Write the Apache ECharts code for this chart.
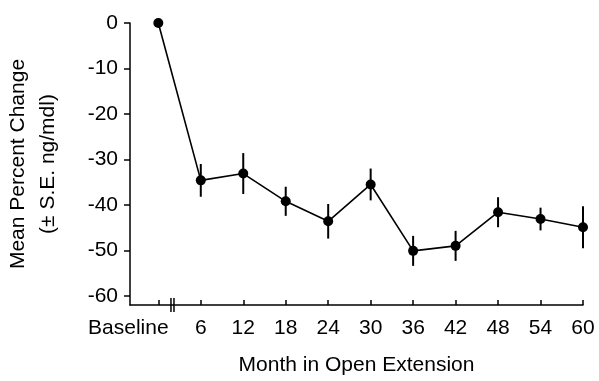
<!DOCTYPE html>
<html>
<head>
<meta charset="utf-8">
<script src="https://cdn.jsdelivr.net/npm/echarts@6/dist/echarts.min.js"></script>
<style>
  html, body { margin: 0; padding: 0; background: #fff; }
  #chart { width: 599px; height: 381px; }
</style>
</head>
<body>
<div id="chart"></div>
<script>
// months in open extension, 0 = baseline
var months = [0, 6, 12, 18, 24, 30, 36, 42, 48, 54, 60];
var meanChange = [0, -34.6, -33.1, -39.2, -43.6, -35.5, -50.1, -49.0, -41.6, -43.1, -44.9];
var stdErr = [0, 3.6, 4.5, 3.2, 3.8, 3.5, 3.3, 3.3, 3.3, 2.5, 4.6];
var yTicks = [0, -10, -20, -30, -40, -50, -60];
var breakAt = 2;

var font = 'Liberation Sans, Arial, Helvetica, sans-serif';

var lineData = [];
var errData = [];
for (var i = 0; i < months.length; i++) {
    lineData.push([months[i], meanChange[i]]);
    if (stdErr[i] > 0) {
        errData.push([months[i], meanChange[i] - stdErr[i], meanChange[i] + stdErr[i]]);
    }
}

var chart = echarts.init(document.getElementById('chart'));
chart.setOption({
    animation: false,
    backgroundColor: '#fff',
    grid: { left: 130, right: 16, top: 23, bottom: 76, containLabel: false, outerBoundsMode: 'none' },
    xAxis: {
        type: 'value',
        min: -4,
        max: 60,
        splitLine: { show: false },
        axisLine: { onZero: false, lineStyle: { color: '#000', width: 1.5 } },
        axisTick: { inside: true, length: 5, customValues: months, lineStyle: { color: '#000', width: 1.5 } },
        axisLabel: {
            customValues: months,
            margin: 13,
            color: '#000',
            fontFamily: font,
            fontSize: 21,
            formatter: function (v) {
                return v === 0 ? '{b|Baseline}' : String(v);
            },
            rich: {
                b: { fontFamily: font, fontSize: 21, color: '#000', padding: [0, 60, 0, 0] }
            }
        },
        name: 'Month in Open Extension',
        nameLocation: 'middle',
        nameGap: 50,
        nameTextStyle: { color: '#000', fontFamily: font, fontSize: 21 }
    },
    yAxis: {
        type: 'value',
        min: -62,
        max: 0,
        splitLine: { show: false },
        axisLine: { show: true, onZero: false, lineStyle: { color: '#000', width: 1.5 } },
        axisTick: { show: true, length: 6, customValues: yTicks, lineStyle: { color: '#000', width: 1.5 } },
        axisLabel: {
            customValues: yTicks,
            margin: 12,
            color: '#000',
            fontFamily: font,
            fontSize: 21
        },
        name: 'Mean Percent Change\n(\u00b1 S.E. ng/mdl)',
        nameLocation: 'middle',
        nameGap: 67,
        nameTextStyle: { color: '#000', fontFamily: font, fontSize: 21, lineHeight: 30 }
    },
    series: [
        {
            type: 'custom',
            data: errData,
            clip: false,
            renderItem: function (params, api) {
                var lo = api.coord([api.value(0), api.value(1)]);
                var hi = api.coord([api.value(0), api.value(2)]);
                return {
                    type: 'line',
                    shape: { x1: lo[0], y1: lo[1], x2: hi[0], y2: hi[1] },
                    style: { stroke: '#000', lineWidth: 2 }
                };
            },
            z: 1
        },
        {
            type: 'line',
            data: lineData,
            clip: false,
            symbol: 'circle',
            symbolSize: 10,
            itemStyle: { color: '#000' },
            lineStyle: { color: '#000', width: 1.6 },
            z: 2
        }
    ]
});

// axis break marks between baseline and month 6
var bp = chart.convertToPixel({ gridIndex: 0 }, [breakAt, -62]);
chart.setOption({
    graphic: [
        { type: 'line', shape: { x1: bp[0] - 1.5, y1: bp[1] - 7, x2: bp[0] - 1.5, y2: bp[1] + 7 }, style: { stroke: '#000', lineWidth: 1.5 } },
        { type: 'line', shape: { x1: bp[0] + 1.5, y1: bp[1] - 7, x2: bp[0] + 1.5, y2: bp[1] + 7 }, style: { stroke: '#000', lineWidth: 1.5 } }
    ]
});
</script>
</body>
</html>
